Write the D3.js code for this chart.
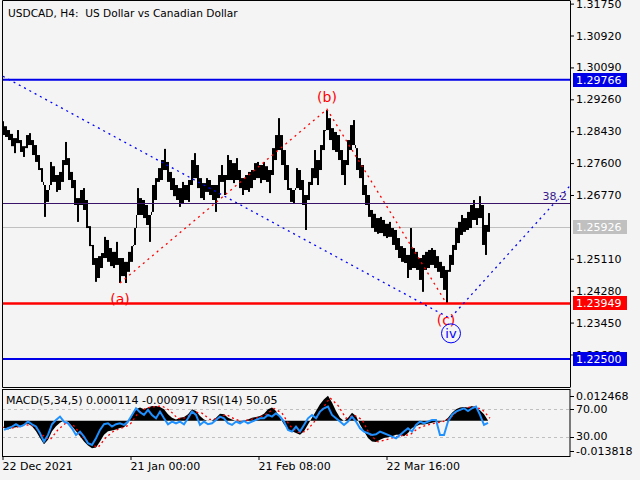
<!DOCTYPE html>
<html><head><meta charset="utf-8">
<script src="https://cdn.jsdelivr.net/npm/d3@7"></script>
<style>
body{margin:0;background:#f4f4f4}
svg{display:block}
text{font-family:"DejaVu Sans",sans-serif}
</style>
</head><body><svg id="c" width="640" height="480"></svg>
<script>
// ---------------- DATA ----------------
const chartTitle = "USDCAD, H4:  US Dollar vs Canadian Dollar";
const indicatorTitle = "MACD(5,34,5) 0.000114 -0.000917 RSI(14) 50.05";
// price highs / lows, one entry per 3 H4 bars
const highs = [
1.2869,1.2856,1.2846,1.2836,1.2825,1.2846,1.2820,1.2804,1.2833,1.2838,
1.2820,1.2807,1.2781,1.2747,1.2703,1.2690,1.2763,1.2752,1.2729,1.2737,
1.2768,1.2815,1.2773,1.2737,1.2716,1.2669,1.2690,1.2695,1.2664,1.2596,
1.2547,1.2513,1.2518,1.2526,1.2568,1.2560,1.2539,1.2529,1.2555,1.2513,
1.2513,1.2503,1.2529,1.2544,1.2591,1.2695,1.2669,1.2664,1.2651,1.2625,
1.2703,1.2721,1.2747,1.2768,1.2797,1.2763,1.2737,1.2721,1.2703,1.2695,
1.2711,1.2703,1.2716,1.2768,1.2786,1.2755,1.2721,1.2708,1.2721,1.2716,
1.2703,1.2703,1.2729,1.2755,1.2729,1.2781,1.2768,1.2760,1.2773,1.2742,
1.2721,1.2729,1.2737,1.2742,1.2760,1.2763,1.2755,1.2763,1.2752,1.2742,
1.2799,1.2833,1.2877,1.2833,1.2794,1.2755,1.2695,1.2690,1.2747,1.2742,
1.2716,1.2677,1.2711,1.2747,1.2794,1.2768,1.2807,1.2846,1.2898,1.2877,
1.2851,1.2841,1.2833,1.2794,1.2768,1.2820,1.2859,1.2872,1.2799,1.2773,
1.2755,1.2703,1.2677,1.2638,1.2628,1.2617,1.2620,1.2612,1.2602,1.2607,
1.2591,1.2586,1.2565,1.2544,1.2539,1.2521,1.2591,1.2539,1.2529,1.2513,
1.2521,1.2529,1.2534,1.2539,1.2534,1.2518,1.2503,1.2492,1.2482,1.2521,
1.2547,1.2591,1.2607,1.2625,1.2617,1.2633,1.2651,1.2664,1.2643,1.2674,
1.2651,1.2599,1.2630
];
const lows = [
1.2833,1.2828,1.2820,1.2804,1.2786,1.2812,1.2789,1.2776,1.2799,1.2807,
1.2781,1.2763,1.2742,1.2711,1.2620,1.2659,1.2703,1.2711,1.2685,1.2690,
1.2711,1.2755,1.2716,1.2695,1.2651,1.2607,1.2651,1.2638,1.2591,1.2544,
1.2495,1.2451,1.2461,1.2487,1.2513,1.2503,1.2492,1.2487,1.2495,1.2448,
1.2466,1.2448,1.2477,1.2503,1.2547,1.2625,1.2625,1.2617,1.2599,1.2555,
1.2633,1.2664,1.2711,1.2716,1.2742,1.2711,1.2690,1.2674,1.2664,1.2646,
1.2656,1.2664,1.2659,1.2703,1.2721,1.2695,1.2669,1.2664,1.2685,1.2677,
1.2664,1.2633,1.2669,1.2711,1.2677,1.2716,1.2716,1.2708,1.2716,1.2695,
1.2677,1.2690,1.2685,1.2695,1.2716,1.2721,1.2708,1.2716,1.2711,1.2682,
1.2729,1.2768,1.2794,1.2755,1.2716,1.2690,1.2659,1.2656,1.2695,1.2690,
1.2651,1.2586,1.2664,1.2703,1.2721,1.2703,1.2742,1.2794,1.2846,1.2820,
1.2794,1.2789,1.2768,1.2729,1.2703,1.2755,1.2794,1.2807,1.2742,1.2721,
1.2677,1.2651,1.2620,1.2591,1.2581,1.2576,1.2578,1.2570,1.2565,1.2568,
1.2547,1.2534,1.2513,1.2503,1.2500,1.2461,1.2482,1.2487,1.2482,1.2456,
1.2425,1.2482,1.2487,1.2495,1.2487,1.2477,1.2461,1.2430,1.2395,1.2477,
1.2495,1.2534,1.2552,1.2573,1.2581,1.2586,1.2591,1.2612,1.2599,1.2617,
1.2547,1.2521,1.2581
];
const barsPerEntry = 3;
const priceTicks = [1.3175,1.3092,1.3009,1.2926,1.2843,1.2760,1.2677,1.2511,1.2428,1.2345,1.2262];
const blueLevels = [1.29766, 1.22500];
const redLevel = 1.23949;
const bidPrice = 1.25926;
const fibLevel = 1.26554;
const fibLabel = "38.2";
const waveABC = [
  {label:"(a)", idx:118, price:1.2448, dy:16},
  {label:"(b)", idx:325, price:1.2900, dy:-12},
  {label:"(c)", idx:444, price:1.2397, dy:17}
];
const waveIV = [
  {idx:1, price:1.2986},
  {idx:448, price:1.2356, label:"iv"},
  {idx:568, price:1.2701}
];
const dateTickIdx = [0,128,256,384];
const dateTickLabels = ["22 Dec 2021","21 Jan 00:00","21 Feb 08:00","22 Mar 16:00"];
// MACD histogram, one value every 4 bars from bar 2
const macdHist = [
-0.00279,-0.00345,-0.00279,-0.00252,-0.00212,-0.00146,-0.00119,-0.00212,-0.00411,-0.00677,
-0.00916,-0.00743,-0.00411,-0.00212,-0.00080,0.00013,-0.00040,-0.00212,-0.00411,-0.00610,
-0.00809,-0.00969,-0.01075,-0.01048,-0.00809,-0.00544,-0.00411,-0.00385,-0.00345,-0.00279,
-0.00252,-0.00080,0.00186,0.00451,0.00518,0.00451,0.00518,0.00584,0.00584,0.00544,
0.00451,0.00252,0.00119,0.00053,0.00119,0.00146,0.00252,0.00451,0.00385,0.00186,
0.00053,-0.00013,0.00013,0.00119,0.00279,0.00252,0.00119,0.00053,-0.00013,-0.00040,
0.00013,0.00053,0.00119,0.00146,0.00186,0.00279,0.00451,0.00518,0.00385,0.00119,
-0.00146,-0.00345,-0.00411,-0.00478,-0.00544,-0.00411,-0.00146,0.00119,0.00385,0.00650,
0.00849,0.00982,0.00717,0.00385,0.00119,-0.00013,0.00119,0.00318,0.00186,-0.00146,
-0.00411,-0.00677,-0.00809,-0.00836,-0.00743,-0.00677,-0.00650,-0.00610,-0.00544,-0.00544,
-0.00610,-0.00478,-0.00279,-0.00212,-0.00146,-0.00146,-0.00119,-0.00080,-0.00040,-0.00040,
-0.00013,0.00119,0.00318,0.00451,0.00518,0.00544,0.00518,0.00584,0.00491,0.00411,
0.00252,0.00011
];
// MACD signal, one value every 8 bars from bar 0
const macdSignal = [
-0.0025,-0.0030,-0.0024,-0.0016,-0.0020,-0.0055,-0.0075,-0.0035,-0.0008,-0.0020,
-0.0060,-0.0090,-0.0105,-0.0065,-0.0040,-0.0028,-0.0015,0.0030,0.0050,0.0055,
0.0058,0.0040,0.0008,0.0012,0.0035,0.0030,0.0005,0.0008,0.0025,0.0008,
-0.0003,0.0005,0.0012,0.0025,0.0048,0.0030,-0.0020,-0.0045,-0.0042,-0.0005,
0.0045,0.0090,0.0060,0.0010,0.0022,0.0005,-0.0055,-0.0082,-0.0075,-0.0065,
-0.0058,-0.0055,-0.0030,-0.0018,-0.0010,-0.0005,0.0010,0.0040,0.0052,0.0055,
0.0045,0.0010
];
// RSI(14), one value every 4 bars from bar 2
const rsiValues = [
39.8,42.2,44.7,48.1,44.7,47.1,52.0,48.1,44.7,35.0,
22.8,32.5,48.1,54.4,59.3,52.0,49.5,42.2,32.5,37.4,
30.1,20.3,17.9,27.6,39.8,48.1,49.5,44.7,48.1,49.5,
47.1,52.0,61.7,71.4,65.6,61.7,69.0,61.7,56.8,66.6,
56.8,48.1,52.0,49.5,52.0,48.1,56.8,66.6,61.7,47.1,
52.0,48.1,49.5,54.4,59.3,56.8,49.5,47.1,52.0,49.5,
53.0,49.5,52.0,54.4,56.8,56.8,61.7,59.3,64.1,59.3,
52.0,39.8,37.4,44.7,37.4,47.1,56.8,61.7,56.8,66.6,
71.4,73.9,61.7,56.8,52.0,47.1,52.0,59.3,52.0,42.2,
37.4,35.0,32.5,33.5,37.4,35.0,32.5,30.1,27.6,32.5,
37.4,42.2,37.4,47.1,52.0,49.5,52.0,54.4,54.4,32.5,
32.5,52.0,61.7,66.6,69.0,71.4,67.5,71.4,73.9,61.7,
47.1,50.05
];
const macdMax = 0.012468, macdMin = -0.013818;
const rsiLevels = [70, 30];

// ---------------- LAYOUT ----------------
const svg = d3.select("#c");
const L = 2, R = 570, mainTop = 0, mainBot = 387, subTop = 389, subBot = 456;
const font = "DejaVu Sans";

svg.append("rect").attr("width",640).attr("height",480).attr("fill","#f4f4f4");

const x = d3.scaleLinear().domain([0, 568]).range([L, R]);
const y = d3.scaleLinear().domain([1.21774, 1.31844]).range([mainBot, mainTop]);
const ym = d3.scaleLinear().domain([macdMin, macdMax]).range([subBot, subTop]);
const yr = d3.scaleLinear().domain([0, 100]).range([457.2, 388.7]);

const defs = svg.append("defs");
defs.append("clipPath").attr("id","cm").append("rect").attr("x",L+1).attr("y",mainTop+1).attr("width",R-L-1).attr("height",mainBot-mainTop-1);
defs.append("clipPath").attr("id","cs").append("rect").attr("x",L+1).attr("y",subTop+1).attr("width",R-L-1).attr("height",subBot-subTop-1);

const gm = svg.append("g").attr("clip-path","url(#cm)");

// bid line (behind bars)
gm.append("line").attr("x1",L).attr("x2",R).attr("y1",Math.round(y(bidPrice))+0.5).attr("y2",Math.round(y(bidPrice))+0.5)
  .attr("stroke","#c0c0c0").attr("stroke-width",1);

// price bars: each entry a 2px column, joined to the next by a 1px connector
const bars = highs.map((h,i)=>({i:i*barsPerEntry, h, l:lows[i]}));
gm.selectAll("rect.bar").data(bars).join("rect").attr("class","bar")
  .attr("x", d=>x(d.i)).attr("width", 2)
  .attr("y", d=>y(d.h)).attr("height", d=>Math.max(1, y(d.l)-y(d.h)))
  .attr("fill","#000");
const links = bars.slice(1).map((d,k)=>{
  const p = bars[k];
  const a = Math.min(p.h, d.h), b = Math.max(p.l, d.l);
  return {i:d.i, top:Math.max(a,b), bot:Math.min(a,b)};
});
gm.selectAll("rect.link").data(links).join("rect").attr("class","link")
  .attr("x", d=>x(d.i)-1).attr("width", 1)
  .attr("y", d=>y(d.top)).attr("height", d=>Math.max(1, y(d.bot)-y(d.top)))
  .attr("fill","#000");

// fib line
gm.append("line").attr("x1",L).attr("x2",R).attr("y1",Math.round(y(fibLevel))+0.5).attr("y2",Math.round(y(fibLevel))+0.5)
  .attr("stroke","#3a1468").attr("stroke-width",1);
// blue levels
blueLevels.forEach(p=>{
  gm.append("line").attr("x1",L).attr("x2",R).attr("y1",y(p)).attr("y2",y(p))
    .attr("stroke","#0000e8").attr("stroke-width",2);
});
gm.append("line").attr("x1",L).attr("x2",R).attr("y1",y(redLevel)).attr("y2",y(redLevel))
  .attr("stroke","#ff0000").attr("stroke-width",2.5);

// wave lines
const wl = d3.line().x(d=>x(d.idx)).y(d=>y(d.price));
gm.append("path").attr("d", wl(waveIV)).attr("fill","none").attr("stroke","#0000ff")
  .attr("stroke-width",1.3).attr("stroke-dasharray","2,4");
gm.append("path").attr("d", wl(waveABC)).attr("fill","none").attr("stroke","#ff0000")
  .attr("stroke-width",1.3).attr("stroke-dasharray","2,4");

// wave labels
waveABC.forEach(d=>{
  gm.append("text").attr("x",x(d.idx)).attr("y",y(d.price)+d.dy).attr("text-anchor","middle")
    .attr("dominant-baseline","central").attr("font-size",14).attr("fill","#ff0000").text(d.label);
});
const iv = waveIV[1];
gm.append("circle").attr("cx",x(iv.idx)+1).attr("cy",y(iv.price)+15).attr("r",9.5)
  .attr("fill","none").attr("stroke","#0000ff").attr("stroke-width",1);
gm.append("text").attr("x",x(iv.idx)+1).attr("y",y(iv.price)+15).attr("text-anchor","middle")
  .attr("dominant-baseline","central").attr("font-size",13).attr("fill","#0000ff").text(iv.label);

// fib label
svg.append("text").attr("x",R-3).attr("y",y(fibLevel)-3).attr("text-anchor","end")
  .attr("font-size",11).attr("fill","#3a1a8c").text(fibLabel);

// title
svg.append("text").attr("x",8).attr("y",17).attr("font-size",10.6).attr("fill","#000")
  .style("white-space","pre").attr("xml:space","preserve").text(chartTitle);

// price axis
const ax = svg.append("g").attr("transform",`translate(${R},0)`)
  .call(d3.axisRight(y).tickValues(priceTicks).tickSize(4).tickSizeOuter(0).tickFormat(d=>d.toFixed(5)));
ax.select(".domain").attr("stroke","#000");
ax.selectAll("text").attr("font-family",font).attr("font-size",11).attr("fill","#000").attr("x",6);
ax.selectAll(".tick line").attr("stroke","#000");

// level boxes
function box(p, col, txtCol){
  const yy = Math.round(y(p));
  svg.append("rect").attr("x",R+3).attr("y",yy-7).attr("width",54).attr("height",14).attr("fill",col);
  svg.append("text").attr("x",R+6).attr("y",yy).attr("dominant-baseline","central")
    .attr("font-size",11).attr("fill",txtCol).text(p.toFixed(5));
}
box(blueLevels[0], "#0000e8", "#fff");
box(bidPrice, "#c0c0c0", "#fff");
box(redLevel, "#ff0000", "#fff");
box(blueLevels[1], "#0000e8", "#fff");

// main frame
svg.append("path").attr("d",`M${R},${mainBot+0.5}H${L+0.5}V0.5H${R}`).attr("fill","none").attr("stroke","#000");

// ---------------- SUB WINDOW ----------------
const gs = svg.append("g").attr("clip-path","url(#cs)");
rsiLevels.forEach(v=>{
  gs.append("line").attr("x1",L).attr("x2",R).attr("y1",Math.round(yr(v))+0.5).attr("y2",Math.round(yr(v))+0.5)
    .attr("stroke","#c0c0c0").attr("stroke-dasharray","3,3");
});
const histArea = d3.area().x((d,i)=>x(2+i*4)).y0(ym(0)).y1(d=>ym(d));
gs.append("path").attr("d",histArea(macdHist)).attr("fill","#000");
const sigLine = d3.line().x((d,i)=>x(i*8)).y(d=>ym(d));
gs.append("path").attr("d",sigLine(macdSignal)).attr("fill","none").attr("stroke","#ff0000")
  .attr("stroke-width",1.3).attr("stroke-dasharray","2,3");
const rsiLine = d3.line().x((d,i)=>x(2+i*4)).y(d=>yr(d));
gs.append("path").attr("d",rsiLine(rsiValues)).attr("fill","none").attr("stroke","#1e90ff").attr("stroke-width",2);

svg.append("rect").attr("x",L+0.5).attr("y",subTop+0.5).attr("width",R-L-0.5).attr("height",subBot-subTop)
  .attr("fill","none").attr("stroke","#000");
svg.append("text").attr("x",6).attr("y",400).attr("dominant-baseline","central").attr("font-size",11)
  .attr("fill","#000").text(indicatorTitle);

// sub axis labels
const subLabels = [
  {y: ym(macdMax)+7, t: macdMax.toFixed(6)},
  {y: yr(70), t: "70.00"},
  {y: yr(30), t: "30.00"},
  {y: ym(macdMin)-5, t: macdMin.toFixed(6)}
];
subLabels.forEach(d=>{
  svg.append("line").attr("x1",R).attr("x2",R+4).attr("y1",Math.round(d.y)+0.5).attr("y2",Math.round(d.y)+0.5).attr("stroke","#000");
  svg.append("text").attr("x",R+6).attr("y",d.y).attr("dominant-baseline","central")
    .attr("font-size",11).attr("fill","#000").text(d.t);
});

// time axis
const tx = svg.append("g").attr("transform",`translate(0,${subBot})`)
  .call(d3.axisBottom(x).tickValues(dateTickIdx).tickSize(4).tickSizeOuter(0).tickFormat((d,i)=>dateTickLabels[i]));
tx.select(".domain").remove();
tx.selectAll(".tick line").attr("stroke","#000").attr("transform","translate(0.5,0)");
tx.selectAll("text").attr("font-family",font).attr("font-size",11).attr("fill","#000")
  .attr("text-anchor","start").attr("x",0).attr("y",6).attr("dy","0.71em");
</script>
</body></html>
